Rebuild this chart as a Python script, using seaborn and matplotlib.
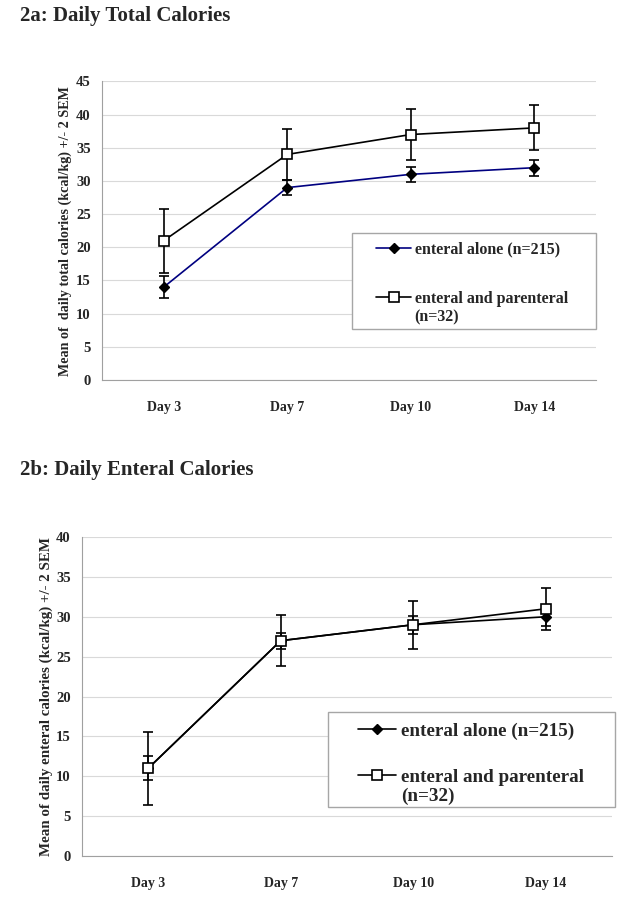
import numpy as np
import matplotlib
matplotlib.use("Agg")
import matplotlib.pyplot as plt
from matplotlib import font_manager
from matplotlib.patches import Rectangle
import matplotlib.patheffects as pe
import seaborn as sns

days = ["Day 3", "Day 7", "Day 10", "Day 14"]
groups = ["enteral alone (n=215)", "enteral and parenteral"]
group2_n = "(n=32)"

# 2a: daily total calories (mean, +/- 2 SEM)
total_alone = [14, 29, 31, 32]
total_alone_err = [1.6, 1.1, 1.1, 1.2]
total_both = [21, 34, 37, 38]
total_both_err = [4.8, 3.8, 3.8, 3.4]

# 2b: daily enteral calories (mean, +/- 2 SEM)
enteral_alone = [11, 27, 29, 30]
enteral_alone_err = [1.5, 1.0, 1.1, 1.2]
enteral_both = [11, 27, 29, 31]
enteral_both_err = [4.6, 3.2, 3.0, 2.65]

sns.set_style("white")

# find a bold serif face; fake the weight with a stroke if there is none
serif_bold = None
for fam in ["Liberation Serif", "DejaVu Serif", "Noto Serif"]:
    for f in font_manager.fontManager.ttflist:
        if f.name == fam and f.style == "normal" and \
                (f.weight == "bold" or (isinstance(f.weight, int) and f.weight >= 700)):
            serif_bold = f.fname
            break
    if serif_bold:
        break

if serif_bold:
    font_manager.fontManager.addfont(serif_bold)
    bold_name = font_manager.FontProperties(fname=serif_bold).get_name()
    plt.rcParams["font.family"] = [bold_name, "DejaVu Serif"]
    plt.rcParams["font.weight"] = "bold"
    EFFECT = []
else:
    plt.rcParams["font.family"] = ["Liberation Serif", "DejaVu Serif"]
    EFFECT = [pe.withStroke(linewidth=0.6, foreground="black")]


def boldify(texts):
    for t in texts:
        t.set_fontweight("bold")
        if EFFECT:
            t.set_path_effects(EFFECT)


def draw_panel(ax, alone, alone_err, both, both_err, alone_color, ymax, ylabel,
               ylabel_size, ylabel_pad, box, leg_anchor, leg_size, handlelen,
               labelspacing, n_pos):
    x = np.arange(len(days))
    # error bars first so markers sit on top
    for vals, errs in [(alone, alone_err), (both, both_err)]:
        ax.errorbar(x, vals, yerr=errs, fmt="none", ecolor="black",
                    elinewidth=1.2, capsize=3.6, capthick=1.2, zorder=2)
    sns.lineplot(x=x, y=alone, ax=ax, color=alone_color, linewidth=1.2,
                 marker="D", markersize=5.5, markerfacecolor="black",
                 markeredgecolor="black", markeredgewidth=1, label=groups[0],
                 sort=False, zorder=3)
    sns.lineplot(x=x, y=both, ax=ax, color="black", linewidth=1.2,
                 marker="s", markersize=6.8, markerfacecolor="white",
                 markeredgecolor="black", markeredgewidth=1.2, label=groups[1],
                 sort=False, zorder=4)

    ax.set_xlim(-0.5, len(days) - 0.5)
    ax.set_ylim(0, ymax)
    ax.set_yticks(np.arange(0, ymax + 1, 5))
    ax.set_xticks(x)
    ax.set_xticklabels(days, fontsize=10)
    ax.set_xticks(np.arange(-0.5, len(days)), minor=True)
    ax.tick_params(axis="x", which="major", length=0, pad=15)
    ax.tick_params(axis="x", which="minor", length=4, width=0.8,
                   color="#a0a0a0", direction="out")
    ax.tick_params(axis="y", length=4, width=0.8, color="#a0a0a0",
                   direction="out", pad=4, labelsize=10.5)
    boldify(ax.get_yticklabels() + ax.get_xticklabels())
    ax.yaxis.grid(True, color="#d9d9d9", linewidth=0.8)
    ax.set_axisbelow(True)
    for s in ["top", "right"]:
        ax.spines[s].set_visible(False)
    for s in ["left", "bottom"]:
        ax.spines[s].set_color("#a0a0a0")
        ax.spines[s].set_linewidth(0.8)
    ax.set_xlabel("")
    ax.set_ylabel(ylabel, fontsize=ylabel_size, labelpad=ylabel_pad)
    boldify([ax.yaxis.label])

    ax.add_patch(Rectangle(box[:2], box[2], box[3], transform=ax.transAxes,
                           facecolor="white", edgecolor="#a6a6a6",
                           linewidth=1, clip_on=False, zorder=6))
    leg = ax.legend(loc="upper left", bbox_to_anchor=leg_anchor,
                    frameon=False, borderpad=0, borderaxespad=0,
                    handlelength=handlelen, handletextpad=0.25,
                    labelspacing=labelspacing,
                    prop={"weight": "bold", "size": leg_size})
    leg.set_zorder(7)
    boldify(leg.get_texts())
    # second line of the two-line legend label
    tn = ax.text(n_pos[0], n_pos[1], group2_n, transform=ax.transAxes,
                 fontsize=leg_size, ha="left", va="center", zorder=8)
    boldify([tn])


fig = plt.figure(figsize=(6.35, 9), dpi=100)
ax1 = fig.add_axes([0.1606, 0.5778, 0.778, 0.3317])
ax2 = fig.add_axes([0.1291, 0.0489, 0.8346, 0.3544])

draw_panel(ax1, total_alone, total_alone_err, total_both, total_both_err,
           "#000080", 45,
           "Mean of  daily total calories (kcal/kg) +/- 2 SEM", 10.2, 3,
           (0.507, 0.171, 0.493, 0.321), (0.555, 0.465), 11.5, 2.2, 2.1,
           (0.632, 0.208))
draw_panel(ax2, enteral_alone, enteral_alone_err, enteral_both, enteral_both_err,
           "black", 40,
           "Mean of daily enteral calories (kcal/kg) +/- 2 SEM", 10.8, 2,
           (0.464, 0.153, 0.542, 0.300), (0.521, 0.42), 13.8, 2.0, 1.5,
           (0.602, 0.187))

t1 = fig.text(20 / 635, 1 - 21 / 900, "2a: Daily Total Calories", fontsize=15,
              va="baseline", ha="left")
t2 = fig.text(20 / 635, 1 - 475 / 900, "2b: Daily Enteral Calories", fontsize=15,
              va="baseline", ha="left")
boldify([t1, t2])

fig.savefig("out.png", dpi=100, facecolor="white")
